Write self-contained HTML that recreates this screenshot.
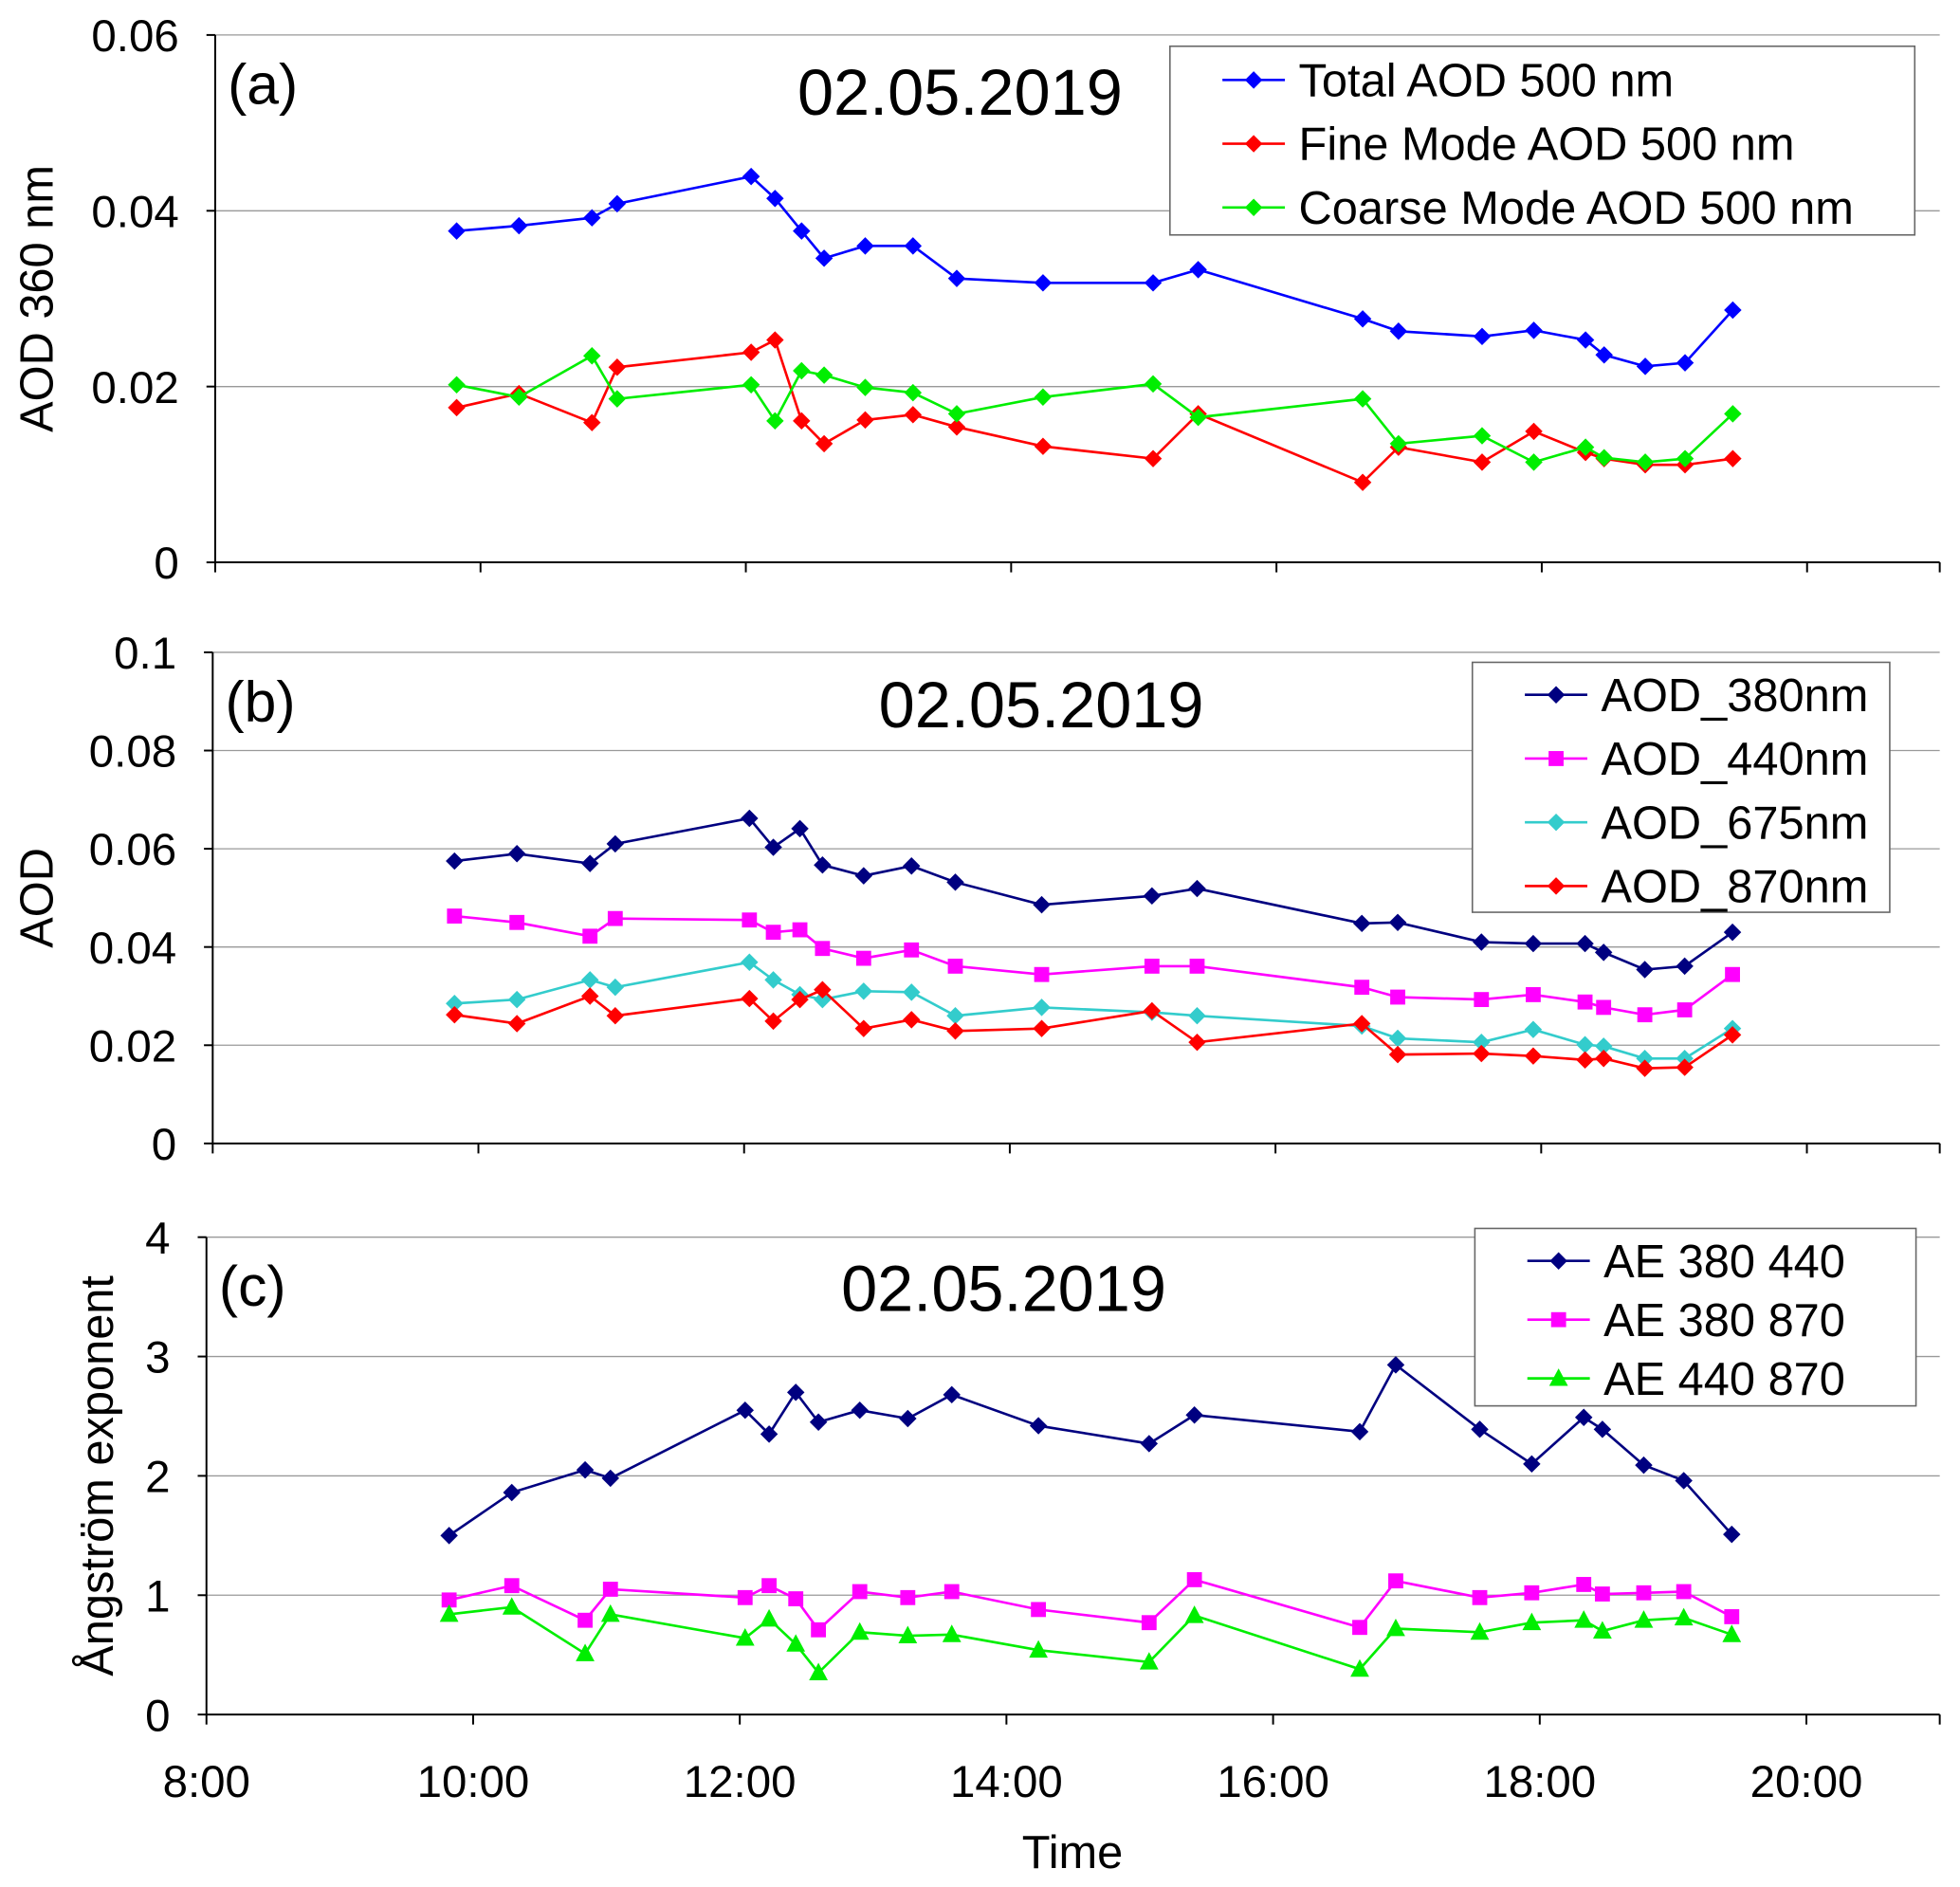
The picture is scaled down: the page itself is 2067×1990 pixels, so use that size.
<!DOCTYPE html>
<html><head><meta charset="utf-8">
<style>
html,body{margin:0;padding:0;background:#fff;}
svg{display:block;font-family:"Liberation Sans",Arial,sans-serif;}
</style></head>
<body>
<svg id="chart" width="2067" height="1990" viewBox="0 0 1568 1510" xmlns="http://www.w3.org/2000/svg"></svg>
<script>
const times=[9.82,10.29,10.84,11.03,12.04,12.22,12.42,12.59,12.90,13.26,13.59,14.24,15.07,15.41,16.65,16.92,17.55,17.94,18.33,18.47,18.78,19.08,19.44];
const totalAOD=[0.0377,0.0383,0.0392,0.0408,0.0439,0.0414,0.0377,0.0346,0.0360,0.0360,0.0323,0.0318,0.0318,0.0333,0.0277,0.0263,0.0257,0.0264,0.0253,0.0236,0.0223,0.0227,0.0287];
const fineAOD=[0.0176,0.0192,0.0159,0.0222,0.0239,0.0253,0.0161,0.0135,0.0162,0.0168,0.0154,0.0132,0.0118,0.0169,0.0091,0.0131,0.0114,0.0149,0.0125,0.0118,0.0111,0.0111,0.0118];
const coarseAOD=[0.0202,0.0188,0.0235,0.0186,0.0202,0.0161,0.0218,0.0213,0.0199,0.0193,0.0169,0.0188,0.0203,0.0165,0.0186,0.0135,0.0144,0.0114,0.0131,0.0119,0.0114,0.0118,0.0169];
const aod380=[0.0575,0.059,0.057,0.061,0.0662,0.0603,0.0641,0.0567,0.0545,0.0565,0.0532,0.0486,0.0504,0.0519,0.0448,0.045,0.041,0.0407,0.0407,0.0389,0.0354,0.0361,0.043];
const aod440=[0.0463,0.045,0.0422,0.0458,0.0455,0.043,0.0435,0.0397,0.0377,0.0394,0.0361,0.0344,0.0361,0.0361,0.0318,0.0298,0.0293,0.0303,0.0288,0.0277,0.0262,0.0272,0.0344];
const aod675=[0.0285,0.0293,0.0333,0.0318,0.0369,0.0333,0.0303,0.0293,0.031,0.0308,0.026,0.0277,0.0267,0.026,0.0239,0.0214,0.0206,0.0232,0.0201,0.0198,0.0173,0.0173,0.0234];
const aod870=[0.0262,0.0244,0.03,0.026,0.0295,0.0249,0.0293,0.0313,0.0234,0.0252,0.0229,0.0234,0.027,0.0206,0.0244,0.0181,0.0183,0.0178,0.017,0.0173,0.0153,0.0155,0.0221];
const ae380440=[1.50,1.86,2.05,1.98,2.55,2.35,2.70,2.45,2.55,2.48,2.68,2.42,2.27,2.51,2.37,2.93,2.39,2.10,2.49,2.39,2.09,1.96,1.51];
const ae380870=[0.96,1.08,0.79,1.05,0.98,1.08,0.97,0.71,1.03,0.98,1.03,0.88,0.77,1.13,0.73,1.12,0.98,1.02,1.09,1.01,1.02,1.03,0.82];
const ae440870=[0.84,0.90,0.51,0.84,0.64,0.80,0.59,0.35,0.69,0.66,0.67,0.54,0.44,0.83,0.38,0.72,0.69,0.77,0.79,0.70,0.79,0.81,0.67];
const xTickLabels=["8:00","10:00","12:00","14:00","16:00","18:00","20:00"];
const xTickHours=[8,10,12,14,16,18,20];

const svg=document.getElementById('chart');
const NS='http://www.w3.org/2000/svg';
function mk(tag,attrs,parent){const e=document.createElementNS(NS,tag);for(const k in attrs)e.setAttribute(k,attrs[k]);(parent||svg).appendChild(e);return e;}
function txt(s,attrs,parent){const e=mk('text',attrs,parent);e.textContent=s;return e;}
function marker(g,type,x,y,c){
  let e;
  if(type==='d'){e=mk('polygon',{points:`${x},${y-7} ${x+7},${y} ${x},${y+7} ${x-7},${y}`,fill:c},g);}
  else if(type==='s'){e=mk('rect',{x:x-6,y:y-6,width:12,height:12,fill:c},g);}
  else {e=mk('polygon',{points:`${x},${y-8} ${x+7.5},${y+6} ${x-7.5},${y+6}`,fill:c},g);}
  
  
}
function panel(p){
  const g=mk('g',{});
  
  
  const X=h=>p.left+(h-8)*(p.right-p.left)/13;
  const Y=v=>p.bottom-(v-p.ymin)*(p.bottom-p.top)/(p.ymax-p.ymin);
  p.yticks.forEach((v,i)=>{
    const y=Y(v);
    if(i>0){const gl=mk('line',{x1:p.left,x2:p.right,y1:y,y2:y,stroke:'#999','stroke-width':1},g);
      }
    mk('line',{x1:p.left-7,x2:p.left,y1:y,y2:y,stroke:'#000','stroke-width':1.5},g);
    const t=txt(p.ylabels[i],{x:p.left-29,y:y+13,'text-anchor':'end','font-size':36},g);
    
  });
  mk('line',{x1:p.left,x2:p.left,y1:p.top,y2:p.bottom,stroke:'#000','stroke-width':1.5},g);
  mk('line',{x1:p.left,x2:p.right,y1:p.bottom,y2:p.bottom,stroke:'#000','stroke-width':1.5},g);
  xTickHours.forEach((h,i)=>{
    mk('line',{x1:X(h),x2:X(h),y1:p.bottom,y2:p.bottom+8,stroke:'#000','stroke-width':1.5},g);
    if(p.xlabels){const t=txt(xTickLabels[i],{x:X(h),y:p.bottom+66,'text-anchor':'middle','font-size':36},g);
      }
  });
  mk('line',{x1:X(21),x2:X(21),y1:p.bottom,y2:p.bottom+8,stroke:'#000','stroke-width':1.5},g);
  const yt=txt(p.ytitle,{transform:`translate(${p.ytx},${(p.top+p.bottom)/2}) rotate(-90)`,'text-anchor':'middle','font-size':37},g);
  
  const pl=txt(p.label,{x:p.left+10,y:p.top+55,'font-size':46},g);
  
  const dt=txt('02.05.2019',{x:p.datex,y:p.datey,'text-anchor':'middle','font-size':52},g);
  
  p.series.forEach(s=>{
    const sg=mk('g',{},g);
    
    
    const pts=s.vals.map((v,i)=>X(times[i])+','+Y(v)).join(' ');
    mk('polyline',{points:pts,fill:'none',stroke:s.c,'stroke-width':2},sg);
    s.vals.forEach((v,i)=>marker(sg,s.m,X(times[i]),Y(v),s.c));
  });
  const L=p.legend;
  const lg=mk('g',{},g);
  
  mk('rect',{x:L.x,y:L.y,width:L.w,height:L.h,fill:'#fff',stroke:'#666','stroke-width':1.2},lg);
  p.series.forEach((s,i)=>{
    const eg=mk('g',{},lg);
    
    const y=L.y+L.first+i*L.step;
    mk('line',{x1:L.x+42,x2:L.x+92,y1:y,y2:y,stroke:s.c,'stroke-width':2},eg);
    marker(eg,s.m,L.x+67,y,s.c);
    txt(s.name,{x:L.x+103,y:y+13,'font-size':37},eg);
  });
}
panel({name:'panel-a',left:172,right:1552,top:28,bottom:450,ymin:0,ymax:0.06,
  yticks:[0,0.02,0.04,0.06],ylabels:['0','0.02','0.04','0.06'],ytitle:'AOD 360 nm',ytx:42,
  label:'(a)',datex:768,datey:92,
  legend:{x:936,y:37,w:596,h:151,first:27,step:51},
  series:[{key:'total',name:'Total AOD 500 nm',vals:totalAOD,c:'#0000ff',m:'d'},
          {key:'fine',name:'Fine Mode AOD 500 nm',vals:fineAOD,c:'#ff0000',m:'d'},
          {key:'coarse',name:'Coarse Mode AOD 500 nm',vals:coarseAOD,c:'#00ee00',m:'d'}]});
panel({name:'panel-b',left:170,right:1552,top:522,bottom:915,ymin:0,ymax:0.1,
  yticks:[0,0.02,0.04,0.06,0.08,0.1],ylabels:['0','0.02','0.04','0.06','0.08','0.1'],ytitle:'AOD',ytx:42,
  label:'(b)',datex:833,datey:582,
  legend:{x:1178,y:530,w:334,h:200,first:26,step:51},
  series:[{key:'aod380',name:'AOD_380nm',vals:aod380,c:'#000080',m:'d'},
          {key:'aod440',name:'AOD_440nm',vals:aod440,c:'#ff00ff',m:'s'},
          {key:'aod675',name:'AOD_675nm',vals:aod675,c:'#33cccc',m:'d'},
          {key:'aod870',name:'AOD_870nm',vals:aod870,c:'#ff0000',m:'d'}]});
panel({name:'panel-c',left:165,right:1552,top:990,bottom:1372,ymin:0,ymax:4,
  yticks:[0,1,2,3,4],ylabels:['0','1','2','3','4'],ytitle:'Ångström exponent',ytx:90,xlabels:true,
  label:'(c)',datex:803,datey:1049,
  legend:{x:1180,y:983,w:353,h:142,first:26,step:47},
  series:[{key:'ae380440',name:'AE 380 440',vals:ae380440,c:'#000080',m:'d'},
          {key:'ae380870',name:'AE 380 870',vals:ae380870,c:'#ff00ff',m:'s'},
          {key:'ae440870',name:'AE 440 870',vals:ae440870,c:'#00ee00',m:'t'}]});
const xt=txt('Time',{x:858,y:1495,'text-anchor':'middle','font-size':37});


</script>
</body></html>
